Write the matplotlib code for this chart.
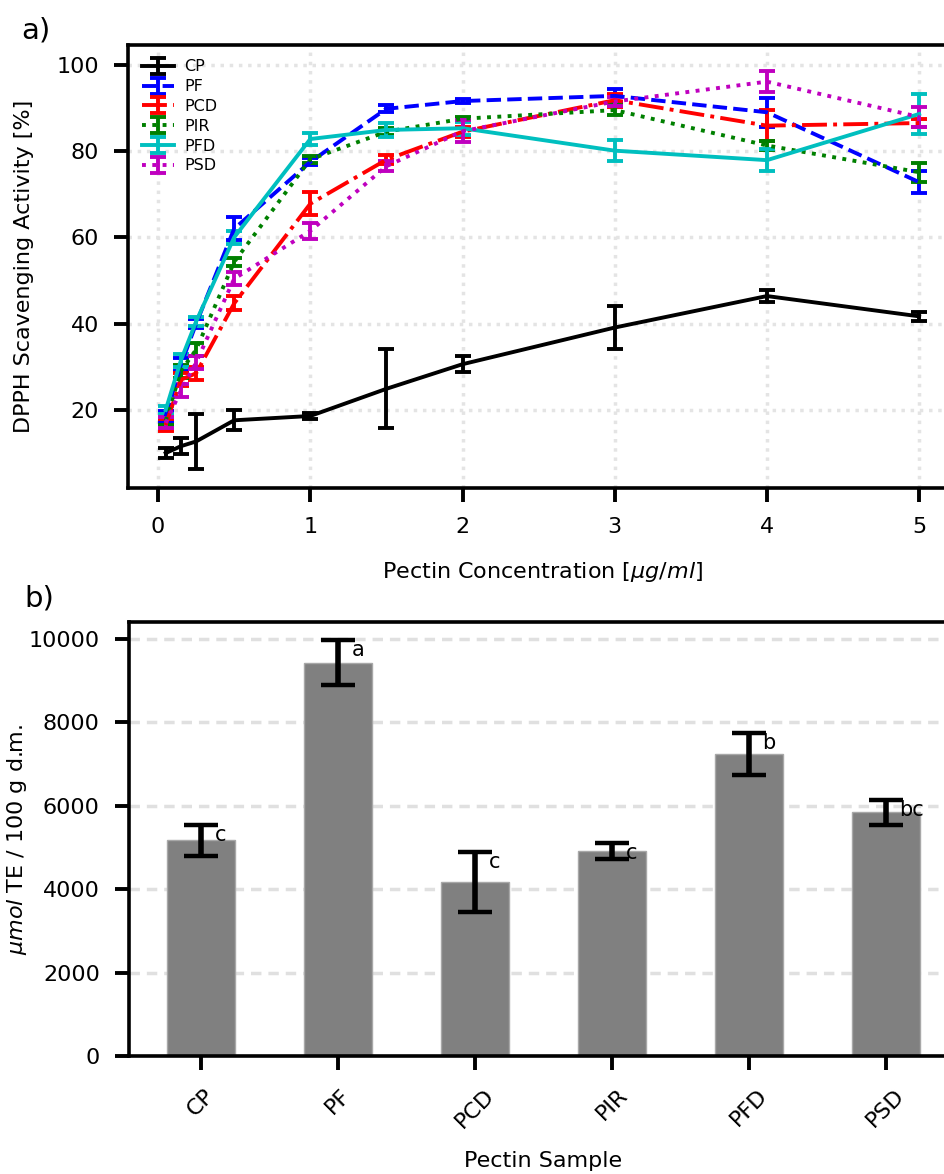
import matplotlib
matplotlib.use("Agg")
import matplotlib.pyplot as plt
import numpy as np

# ---------------- data (a) ----------------
conc = [0.05, 0.15, 0.25, 0.5, 1, 1.5, 2, 3, 4, 5]
series_names = ["CP", "PF", "PCD", "PIR", "PFD", "PSD"]
cp_mean = [10.0, 11.6, 12.7, 17.6, 18.6, 24.9, 30.6, 39.1, 46.4, 41.7]
cp_err = [1.2, 1.9, 6.3, 2.3, 0.6, 9.2, 1.9, 5.0, 1.4, 1.0]
pf_mean = [18.5, 30.5, 40.0, 62.0, 77.5, 89.8, 91.6, 92.8, 89.0, 72.8]
pf_err = [1.2, 1.5, 1.0, 2.7, 0.8, 0.8, 0.5, 1.5, 3.4, 2.6]
pcd_mean = [16.5, 27.0, 28.5, 44.7, 67.8, 78.0, 84.5, 91.8, 85.9, 86.5]
pcd_err = [1.3, 1.5, 1.5, 1.6, 2.7, 1.0, 1.2, 1.5, 3.6, 1.0]
pir_mean = [17.5, 29.0, 34.0, 54.3, 78.1, 84.5, 87.5, 89.5, 81.3, 75.1]
pir_err = [1.0, 1.5, 1.5, 1.0, 0.8, 0.8, 0.5, 1.2, 1.0, 2.2]
pfd_mean = [20.0, 31.5, 40.5, 60.0, 82.8, 84.9, 85.3, 80.1, 77.9, 88.6]
pfd_err = [1.0, 1.5, 1.0, 1.5, 1.4, 1.6, 1.5, 2.4, 2.6, 4.6]
psd_mean = [17.0, 24.5, 31.0, 50.4, 61.5, 76.5, 84.6, 91.5, 96.1, 87.9]
psd_err = [1.3, 1.5, 1.5, 1.5, 1.9, 1.2, 2.5, 1.0, 2.5, 2.3]

# ---------------- data (b) ----------------
samples = ["CP", "PF", "PCD", "PIR", "PFD", "PSD"]
te_mean = [5170, 9420, 4170, 4920, 7245, 5840]
te_err = [370, 540, 725, 195, 500, 300]
letters = ["c", "a", "c", "c", "b", "bc"]

means = [cp_mean, pf_mean, pcd_mean, pir_mean, pfd_mean, psd_mean]
errs = [cp_err, pf_err, pcd_err, pir_err, pfd_err, psd_err]
colors = ["k", "b", "r", "g", "c", "m"]
styles = ["-", "--", "-.", ":", "-", ":"]

fig = plt.figure(figsize=(9.44, 11.74), dpi=100)

TICK_FS = 16
LABEL_FS = 16

# ---------------- panel a ----------------
ax1 = fig.add_axes([0.1356, 0.5843, 0.878, 0.3774])
for name, m, e, c, ls in zip(series_names, means, errs, colors, styles):
    ax1.errorbar(conc, m, yerr=e, color=c, linestyle=ls, linewidth=2.8,
                 elinewidth=2.8, capsize=6, capthick=2.8, label=name)
ax1.set_xlim(-0.1975, 5.2475)
ax1.set_ylim(1.9, 104.6)
ax1.set_xticks([0, 1, 2, 3, 4, 5])
ax1.set_yticks([20, 40, 60, 80, 100])
ax1.grid(True, linestyle=":", linewidth=2.5, color="#e4e4e4")
ax1.set_axisbelow(True)
ax1.set_xlabel(r"Pectin Concentration [$\mu g/ml$]", fontsize=LABEL_FS)
ax1.set_ylabel("DPPH Scavenging Activity [%]", fontsize=LABEL_FS)
ax1.xaxis.set_label_coords(0.5, -0.163)
ax1.yaxis.set_label_coords(-0.114, 0.5)
ax1.legend(loc="upper left", fontsize=11.5, frameon=False, handlelength=2.0,
           borderaxespad=0.5, labelspacing=0.3, handletextpad=0.6)

# ---------------- panel b ----------------
ax2 = fig.add_axes([0.1366, 0.1005, 0.878, 0.3697])
xpos = np.arange(len(samples))
ax2.bar(xpos, te_mean, width=0.5, color="#808080", edgecolor="#a8a8a8", linewidth=1, zorder=2)
ax2.errorbar(xpos, te_mean, yerr=te_err, fmt="none", ecolor="k", elinewidth=4,
             capsize=12.5, capthick=3.2, zorder=3)
for xi, m, e, lt in zip(xpos, te_mean, te_err, letters):
    ax2.text(xi + 0.1, m + e, lt, ha="left", va="top", fontsize=15, zorder=4)
ax2.set_xlim(-0.525, 5.525)
ax2.set_ylim(0, 10400)
ax2.set_xticks(xpos)
ax2.set_xticklabels(samples, rotation=45)
ax2.set_yticks([0, 2000, 4000, 6000, 8000, 10000])
ax2.yaxis.grid(True, linestyle=(0, (3, 2)), linewidth=2.5, color="#e0e0e0")
ax2.set_axisbelow(True)
ax2.set_xlabel("Pectin Sample", fontsize=LABEL_FS)
ax2.set_ylabel(r"$\mu mol$ TE / 100 g d.m.", fontsize=LABEL_FS)
ax2.xaxis.set_label_coords(0.5, -0.218)
ax2.yaxis.set_label_coords(-0.12, 0.5)

for ax in (ax1, ax2):
    ax.tick_params(labelsize=TICK_FS, length=10, width=2.8, pad=11)
    for sp in ax.spines.values():
        sp.set_linewidth(2.6)

fig.text(0.023, 0.9736, "a)", fontsize=21, va="center")
fig.text(0.026, 0.4906, "b)", fontsize=21, va="center")

fig.savefig("out.png", dpi=100)
